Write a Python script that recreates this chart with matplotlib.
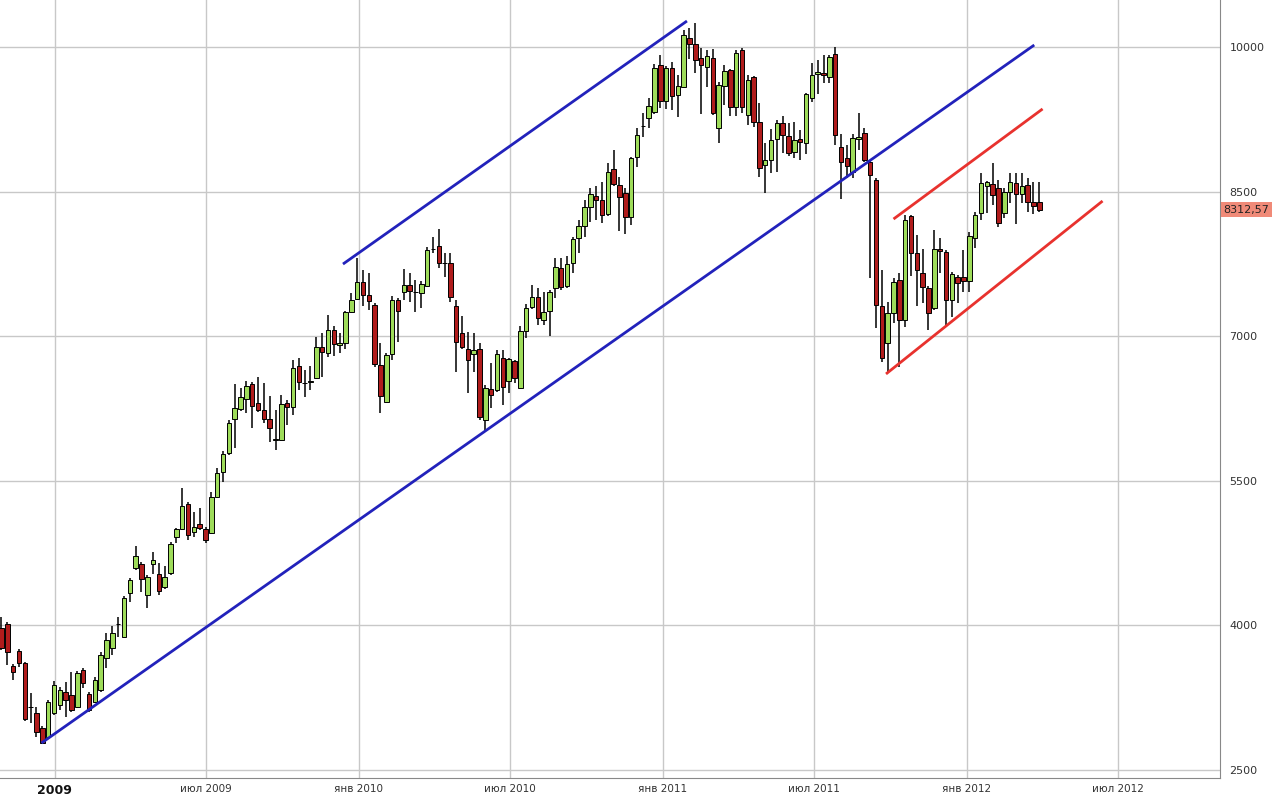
import matplotlib
matplotlib.use('Agg')
import matplotlib.pyplot as plt
import matplotlib.dates as mdates
import matplotlib.transforms as mtransforms
import numpy as np
import pandas as pd

# ---------------- data ----------------
dates = pd.date_range('2008-10-29', periods=179, freq='7D')

opens = [3973, 4014, 3578, 3734, 3609, 3150, 3091, 2936, 2842, 3091,
         3174, 3309, 3278, 3153, 3537, 3288, 3205, 3330, 3661, 3765,
         4010, 3879, 4336, 4595, 4636, 4315, 4636, 4533, 4398, 4543,
         4916, 4999, 5259, 4968, 5051, 4999, 4958, 5332, 5591, 5788,
         6141, 6245, 6348, 6504, 6307, 6234, 6141, 5928, 5923, 6307,
         6265, 6691, 6510, 6525, 6566, 6887, 6826, 7064, 6908, 6929,
         7251, 7385, 7562, 7427, 7323, 6701, 6317, 6815, 7375, 7458,
         7531, 7455, 7448, 7520, 7900, 7935, 7755, 7759, 7313, 7032,
         6867, 6815, 6867, 6130, 6452, 6442, 6774, 6535, 6743, 6462,
         7053, 7303, 7406, 7167, 7261, 7500, 7707, 7520, 7759, 8018,
         8143, 8340, 8454, 8412, 8267, 8734, 8568, 8484, 8236, 8858,
         9175, 9263, 9325, 9813, 9440, 9782, 9502, 9585, 10093, 10031,
         9885, 9792, 9885, 9160, 9595, 9761, 9377, 9968, 9294, 9688,
         9221, 8775, 8827, 9045, 9211, 9077, 8910, 9045, 9004, 9471,
         9719, 9730, 9688, 9927, 8962, 8848, 8703, 9045, 9108, 8806,
         8620, 7313, 6929, 7240, 7583, 7167, 8246, 7862, 7655, 7500,
         7292, 7904, 7873, 7375, 7614, 7614, 7572, 8018, 8277, 8557,
         8578, 8536, 8277, 8495, 8588, 8474, 8568, 8391, 8391]

highs = [4087, 4035, 3599, 3755, 3620, 3299, 3153, 2957, 3226, 3423,
         3361, 3413, 3516, 3527, 3558, 3309, 3465, 3724, 3921, 3993,
         4087, 4305, 4491, 4823, 4657, 4522, 4761, 4647, 4616, 4865,
         5010, 5425, 5280, 5176, 5218, 5020, 5383, 5632, 5809, 6130,
         6504, 6462, 6535, 6525, 6577, 6514, 6379, 6234, 6390, 6338,
         6753, 6773, 6649, 6691, 6991, 7032, 7219, 7105, 7032, 7261,
         7448, 7811, 7686, 7655, 7344, 6929, 6826, 7416, 7396, 7697,
         7655, 7583, 7573, 7925, 8029, 8111, 7862, 7862, 7375, 7209,
         7043, 7032, 6929, 6494, 6722, 6857, 6857, 6774, 6753, 7105,
         7334, 7531, 7500, 7458, 7479, 7811, 7811, 7832, 8029, 8205,
         8412, 8536, 8557, 8598, 8796, 8931, 8651, 8536, 8858, 9160,
         9315, 9471, 9823, 9917, 9802, 9844, 9709, 10176, 10197, 10249,
         9989, 9968, 9979, 9636, 9813, 9771, 9968, 9989, 9709, 9699,
         9419, 9004, 9149, 9242, 9284, 9211, 9221, 9139, 9523, 9834,
         9865, 9917, 9917, 9999, 9097, 8983, 9097, 9315, 9160, 8827,
         8640, 7686, 7354, 7603, 7655, 8256, 8256, 8049, 7904, 7520,
         8101, 8018, 7893, 7666, 7634, 7893, 8080, 8288, 8692, 8609,
         8796, 8619, 8536, 8692, 8692, 8692, 8640, 8598, 8598]

lows = [3744, 3588, 3433, 3568, 3010, 2987, 2842, 2770, 2832, 3070,
        3122, 3050, 3101, 3143, 3351, 3101, 3195, 3309, 3558, 3692,
        3879, 3869, 4242, 4574, 4346, 4180, 4533, 4315, 4377, 4522,
        4854, 4989, 4885, 4916, 4989, 4854, 4947, 5321, 5487, 5767,
        5840, 6224, 6203, 6048, 6213, 6099, 5902, 5818, 5912, 6079,
        6182, 6442, 6369, 6442, 6556, 6577, 6784, 6795, 6826, 6867,
        7240, 7375, 7313, 7271, 6680, 6203, 6307, 6753, 6939, 7375,
        7354, 7251, 7292, 7510, 7862, 7707, 7614, 7354, 6628, 6867,
        6411, 6628, 6130, 6027, 6255, 6421, 6286, 6411, 6514, 6452,
        6981, 7282, 7115, 7115, 7001, 7396, 7479, 7500, 7655, 7862,
        8029, 8184, 8205, 8174, 8246, 8557, 8090, 8059, 8153, 8755,
        9066, 9160, 9305, 9367, 9357, 9346, 9274, 9574, 9875, 9730,
        9305, 9585, 9294, 9004, 9398, 9284, 9284, 9315, 9191, 9170,
        8651, 8485, 8692, 8703, 8900, 8869, 8848, 8827, 8889, 9429,
        9512, 9626, 9626, 8983, 8423, 8636, 8636, 8931, 8806, 7603,
        7085, 6732, 6618, 7136, 6680, 7095, 7624, 7313, 7344, 7064,
        7271, 7655, 7115, 7198, 7344, 7458, 7458, 7914, 8205, 8277,
        8360, 8132, 8225, 8380, 8163, 8380, 8288, 8267, 8288]

closes = [3765, 3724, 3516, 3609, 3029, 3155, 2894, 2780, 3205, 3382,
          3330, 3226, 3122, 3506, 3402, 3122, 3434, 3692, 3848, 3921,
          4018, 4284, 4470, 4719, 4481, 4501, 4678, 4356, 4501, 4844,
          4999, 5238, 4937, 5020, 5010, 4885, 5332, 5580, 5778, 6099,
          6255, 6369, 6483, 6276, 6234, 6141, 6048, 5938, 6297, 6265,
          6670, 6525, 6518, 6532, 6887, 6836, 7064, 6918, 6929, 7251,
          7375, 7562, 7427, 7365, 6712, 6379, 6805, 7375, 7261, 7531,
          7469, 7462, 7541, 7893, 7908, 7759, 7762, 7406, 6939, 6887,
          6753, 6857, 6162, 6462, 6390, 6815, 6473, 6763, 6566, 7053,
          7292, 7406, 7188, 7251, 7458, 7717, 7510, 7749, 8008, 8143,
          8340, 8474, 8412, 8256, 8703, 8578, 8443, 8236, 8848, 9087,
          9185, 9388, 9782, 9440, 9782, 9491, 9595, 10124, 10031, 9865,
          9813, 9906, 9315, 9605, 9751, 9377, 9937, 9377, 9657, 9221,
          8744, 8827, 9035, 9211, 9087, 8900, 9035, 9014, 9512, 9709,
          9740, 9709, 9896, 9087, 8806, 8765, 9056, 9066, 8827, 8672,
          7323, 6774, 7240, 7562, 7167, 8205, 7862, 7686, 7510, 7240,
          7904, 7883, 7375, 7645, 7552, 7572, 8039, 8256, 8589, 8598,
          8464, 8174, 8495, 8598, 8474, 8557, 8391, 8350, 8312.57]

# trend lines: (start date, start price, end date, end price)
blue_lower = ('2008-12-16', 2780, '2012-03-22', 10020)
blue_upper = ('2009-12-13', 7748, '2011-01-30', 10269)
red_upper = ('2011-10-05', 8215, '2012-04-01', 9357)
red_lower = ('2011-09-26', 6608, '2012-06-12', 8402)

last_price = 8312.57
last_label = '8312,57'

y_ticks = [2500, 4000, 5500, 7000, 8500, 10000]
x_tick_dates = ['2009-01-01', '2009-07-01', '2010-01-01', '2010-07-01',
                '2011-01-01', '2011-07-01', '2012-01-01', '2012-07-01']
x_tick_labels = ['2009', 'июл 2009', 'янв 2010', 'июл 2010',
                 'янв 2011', 'июл 2011', 'янв 2012', 'июл 2012']

# ---------------- plot ----------------
plt.rcParams['font.family'] = ['DejaVu Sans']
fig = plt.figure(figsize=(12.8, 8), dpi=100)
ax = fig.add_axes([0.0, 0.0275, 0.953, 0.9725])

x = mdates.date2num(dates)
o = np.array(opens, float)
h = np.array(highs, float)
l = np.array(lows, float)
c = np.array(closes, float)
up = c >= o

GREEN = '#9edc5a'
RED = '#b01c1c'

# grid
for d in x_tick_dates:
    ax.axvline(mdates.date2num(pd.Timestamp(d)), color='#c8c8c8', lw=1, zorder=0)
for yv in y_ticks:
    ax.axhline(yv, color='#c8c8c8', lw=1, zorder=0)

ax.vlines(x, l, h, color='black', lw=1.1, zorder=2)
width = 5.4
bottoms = np.minimum(o, c)
heights = np.maximum(np.abs(c - o), 4)
colors = [GREEN if u else RED for u in up]
ax.bar(x, heights, bottom=bottoms, width=width, color=colors,
       edgecolor='black', linewidth=0.7, zorder=3)

def tline(seg, color):
    d0, p0, d1, p1 = seg
    ax.plot([mdates.date2num(pd.Timestamp(d0)), mdates.date2num(pd.Timestamp(d1))],
            [p0, p1], color=color, lw=2, zorder=4, solid_capstyle='butt')

tline(blue_lower, '#2222bb')
tline(blue_upper, '#2222bb')
tline(red_upper, '#e8322e')
tline(red_lower, '#e8322e')

x_left = mdates.date2num(pd.Timestamp('2008-10-29')) - 1.8
x_right = mdates.date2num(pd.Timestamp('2009-01-01')) + (1220 - 55) * 1.2007
ax.set_xlim(x_left, x_right)
ax.set_ylim(2417, 10487)

ax.yaxis.tick_right()
ax.set_yticks(y_ticks)
ax.set_yticklabels([str(v) for v in y_ticks])
ax.tick_params(axis='y', length=0, pad=7, labelsize=8, labelcolor='#333333')

ax.set_xticks([mdates.date2num(pd.Timestamp(d)) for d in x_tick_dates])
ax.set_xticklabels(x_tick_labels)
ax.tick_params(axis='x', length=0, pad=4, labelsize=7.5, labelcolor='#333333')
lbls = ax.get_xticklabels()
lbls[0].set_fontweight('bold')
lbls[0].set_fontsize(9)
lbls[0].set_color('#111111')

for s in ['top', 'left']:
    ax.spines[s].set_visible(False)
ax.spines['right'].set_color('#888888')
ax.spines['bottom'].set_color('#888888')

trans = mtransforms.blended_transform_factory(ax.transAxes, ax.transData)
ax.text(1.003, last_price, last_label, transform=trans, ha='left', va='center',
        fontsize=8, color='#222222', clip_on=False,
        bbox=dict(facecolor='#f08a78', edgecolor='none', pad=1.8))

fig.savefig('out.png', dpi=100, facecolor='white')
